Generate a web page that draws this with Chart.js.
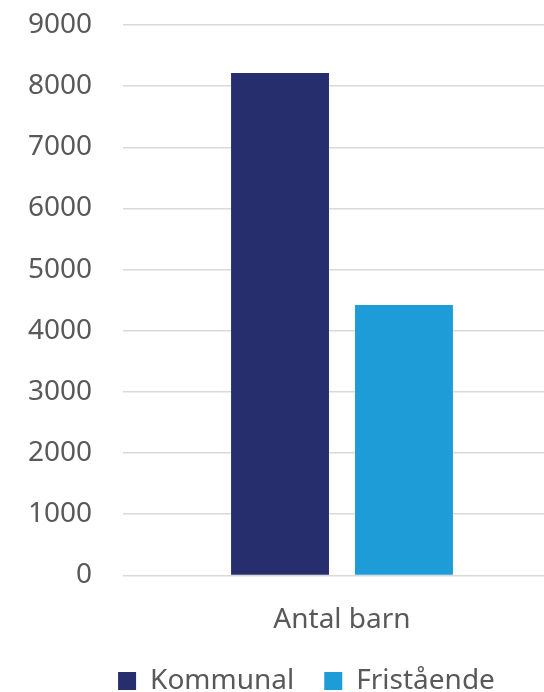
<!DOCTYPE html>
<html lang="sv">
<head>
    <meta charset="UTF-8">
    <meta name="viewport" content="width=device-width, initial-scale=1.0">
    <script src="https://cdn.jsdelivr.net/npm/chart.js@4.4.0/dist/chart.umd.min.js"></script>
    <title>Antal barn</title>
    <style>
        html, body { margin: 0; padding: 0; overflow: hidden; background: #fff; }
        #wrap { position: absolute; left: 0; top: 0; width: 561px; height: 733px; }
    </style>
</head>
<body>
<div id="wrap"><canvas id="bar-chart" width="561" height="733"></canvas></div>

<script>
var categories = ['Antal barn'];
var seriesNames = ['Kommunal', 'Fristående'];
var kommunal = [8215];
var fristaende = [4420];
var yTicks = [0, 1000, 2000, 3000, 4000, 5000, 6000, 7000, 8000, 9000];

var textGray = '#595959';
var font = { family: 'Noto Sans', size: 28 };

// the legend sits a bit right of the canvas centre and closer to the axis
var legendNudge = {
    id: 'legendNudge',
    afterLayout: function(chart) {
        var lg = chart.legend;
        lg.left += 26; lg.right += 26;
        lg.top -= 28; lg.bottom -= 28;
        lg.adjustHitBoxes();
    }
};

var bar_ctx = document.getElementById('bar-chart').getContext('2d');

var bar_chart = new Chart(bar_ctx, {
    type: 'bar',
    data: {
        labels: categories,
        datasets: [{
            label: seriesNames[0],
            data: kommunal,
            backgroundColor: '#262E6E',
            borderWidth: 0
        }, {
            label: seriesNames[1],
            data: fristaende,
            backgroundColor: '#1E9CD8',
            borderWidth: 0
        }]
    },
    options: {
        responsive: false,
        maintainAspectRatio: false,
        animation: false,
        categoryPercentage: 0.566,
        barPercentage: 0.79,
        layout: { padding: { left: 0, top: 25, right: 0, bottom: 0 } },
        scales: {
            x: {
                grid: { display: false, drawTicks: false },
                border: { display: false },
                ticks: { color: textGray, font: font, padding: 28 }
            },
            y: {
                min: yTicks[0],
                max: yTicks[yTicks.length - 1],
                afterBuildTicks: function(scale) {
                    scale.ticks = yTicks.map(function(v) { return { value: v }; });
                },
                afterFit: function(scale) { scale.width = 123; },
                // invisible tick marks give the label gap without padding the top
                grid: { color: '#D9D9D9', lineWidth: 1.5, drawTicks: true, tickLength: 23, tickColor: 'rgba(0,0,0,0)' },
                border: { display: false },
                ticks: {
                    color: textGray,
                    font: font,
                    padding: 8,
                    callback: function(v) { return String(v); }
                }
            }
        },
        plugins: {
            tooltip: { enabled: false },
            legend: {
                position: 'bottom',
                labels: {
                    color: textGray,
                    font: font,
                    boxWidth: 18,
                    boxHeight: 18,
                    padding: 30
                }
            }
        }
    },
    plugins: [legendNudge]
});
</script>
</body>
</html>
